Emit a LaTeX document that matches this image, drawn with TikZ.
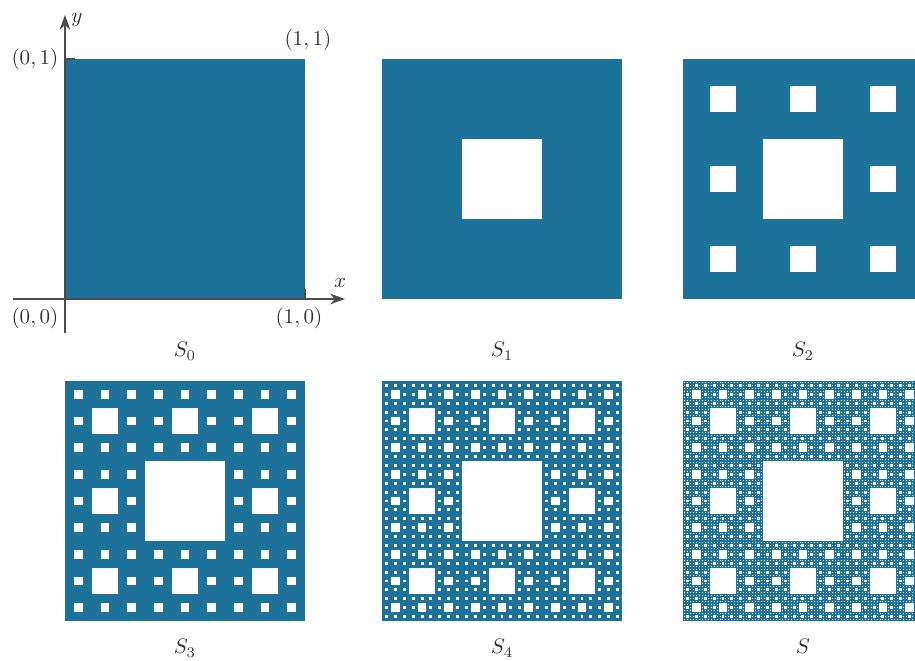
\documentclass[tikz,border=0pt]{standalone}
\usepackage{amsmath}
\usetikzlibrary{arrows.meta,positioning,calc}
\definecolor{cb}{RGB}{28,114,153}

% carpet of a given level, unit square scaled to 4cm
\newcommand{\carpet}[3]{%
  \begin{scope}[shift={(#1,#2)},scale=4]
    \fill[cb] (0,0) rectangle (1,1);
    \ifnum#3>0
    \foreach \k in {1,...,#3}{
      \pgfmathtruncatemacro{\m}{3^(\k-1)}
      \pgfmathsetmacro{\s}{1/\m}
      \pgfmathtruncatemacro{\mm}{\m-1}
      \foreach \i in {0,...,\mm}{
        \foreach \j in {0,...,\mm}{
          \fill[white] ({(\i+1/3)*\s},{(\j+1/3)*\s}) rectangle +({\s/3},{\s/3});
        }
      }
    }
    \fi
  \end{scope}}

\begin{document}
\begin{tikzpicture}[
    lbl/.style={font=\normalsize,text=black!80},
    ax/.style={draw=black!70,line width=0.6pt},
    arr/.style={ax,-{Stealth[length=2.5mm,width=1.8mm]}},
]
\useasboundingbox (0,0) rectangle (15.25,11.0167);

% top row
\carpet{1.083}{6.033}{0}
\carpet{6.367}{6.033}{1}
\carpet{11.383}{6.033}{2}
% bottom row
\carpet{1.083}{0.667}{3}
\carpet{6.367}{0.667}{4}
\carpet{11.383}{0.667}{5}

% axes
\coordinate (o) at (1.083,6.033);
\coordinate (xs) at (0.217,6.033);
\coordinate (xe) at (5.75,6.033);
\coordinate (ys) at (1.083,5.467);
\coordinate (ye) at (1.083,10.767);
\coordinate (p01) at (1.083,10.033);
\coordinate (p10) at (5.083,6.033);
\draw[arr] (xs) -- (xe);
\draw[arr] (ys) -- (ye);
\draw[ax] (p01) -- ++(0.17,0);
\draw[ax] (p10) -- ++(0,0.17);

\node[lbl] (lx) at (5.667,6.3) {$x$};
\node[lbl] (ly) at (1.283,10.683) {$y$};
\node[lbl] (l01) at (0.583,10.033) {$(0,1)$};
\node[lbl] (l11) at (5.133,10.35) {$(1,1)$};
\node[lbl] (l00) at (0.583,5.717) {$(0,0)$};
\node[lbl] (l10) at (4.983,5.717) {$(1,0)$};

% captions
\node[lbl,anchor=base] (c0) at (3.083,5.067) {$S_0$};
\node[lbl,anchor=base] (c1) at (8.367,5.067) {$S_1$};
\node[lbl,anchor=base] (c2) at (13.383,5.067) {$S_2$};
\node[lbl,anchor=base] (c3) at (3.083,0.117) {$S_3$};
\node[lbl,anchor=base] (c4) at (8.367,0.117) {$S_4$};
\node[lbl,anchor=base] (c5) at (13.383,0.117) {$S$};
\end{tikzpicture}
\end{document}
